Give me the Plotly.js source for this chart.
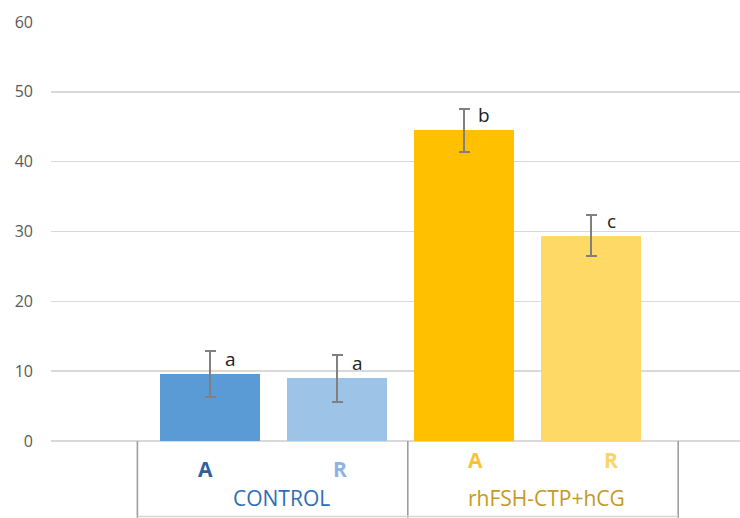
<!DOCTYPE html>
<html>
<head>
<meta charset="utf-8">
<script src="https://cdn.plot.ly/plotly-3.0.1.min.js"></script>
<style>
  html, body { margin: 0; padding: 0; background: #fff; }
  #chart { width: 740px; height: 518px; }
</style>
</head>
<body>
<div id="chart"></div>
<script>
// Sub-category labels, group names and measured values
const groups = ['CONTROL', 'rhFSH-CTP+hCG'];
const subLabels = ['A', 'R', 'A', 'R'];
const values = [9.6, 9.0, 44.5, 29.4];
const errors = [3.35, 3.35, 3.1, 2.95];
const letters = ['a', 'a', 'b', 'c'];
const yTicks = [0, 10, 20, 30, 40, 50, 60];

const barColors = ['#5B9BD5', '#9DC3E6', '#FFC000', '#FFD966'];
const subColors = ['#2F5FA0', '#8DB3E2', '#F7C236', '#FBD467'];
const groupColors = ['#2E6DB4', '#C49A22'];

const xs = values.map((_, i) => i);

const bars = {
  type: 'bar',
  x: xs,
  y: values,
  width: 0.78,
  marker: { color: barColors, line: { width: 0 } },
  error_y: {
    type: 'data',
    array: errors,
    visible: true,
    color: '#808080',
    thickness: 2,
    width: 5.5
  },
  hoverinfo: 'skip',
  showlegend: false
};

const annotations = [];

// significance letters beside each error bar
letters.forEach((t, i) => {
  annotations.push({
    xref: 'x', yref: 'y', x: xs[i], y: values[i],
    text: t, showarrow: false,
    xanchor: 'center', yanchor: 'bottom',
    xshift: 20, yshift: 0,
    font: { family: 'Open Sans', size: 19, color: '#222222' }
  });
});

// lower tier: A / R under each slot
subLabels.forEach((t, i) => {
  annotations.push({
    xref: 'x2', yref: 'paper', x: i, y: i < 2 ? -0.067 : -0.046,
    text: '<b>' + t + '</b>', showarrow: false,
    xanchor: 'center', yanchor: 'middle',
    font: { family: 'Open Sans', size: 21, color: subColors[i] }
  });
});

// upper tier: group names
groups.forEach((g, k) => {
  annotations.push({
    xref: 'x2', yref: 'paper', x: 2 * k + 0.5, y: -0.137,
    text: g, showarrow: false,
    xanchor: 'center', yanchor: 'middle',
    xshift: k === 0 ? 9 : 3,
    font: { family: 'Open Sans', size: 21, color: groupColors[k] }
  });
});

// group dividers and the bottom edge of the category table
const shapes = [];
[-0.5, 1.5, 3.5].forEach(x => {
  shapes.push({
    type: 'line', xref: 'x2', yref: 'paper',
    x0: x, x1: x, y0: 0, y1: -0.19,
    line: { color: '#9E9E9E', width: 1.6 }
  });
});
shapes.push({
  type: 'line', xref: 'x2', yref: 'paper',
  x0: -0.5, x1: 3.5, y0: -0.18, y1: -0.18,
  line: { color: '#D6D6D6', width: 1.5 }
});

const layout = {
  width: 740,
  height: 518,
  margin: { l: 51, r: 0, t: 22, b: 77 },
  paper_bgcolor: '#ffffff',
  plot_bgcolor: '#ffffff',
  font: { family: 'Open Sans', color: '#595959' },
  bargap: 0,
  xaxis: {
    range: [-1.252, 4.173],
    showgrid: false,
    zeroline: false,
    showticklabels: false,
    ticks: '',
    fixedrange: true
  },
  xaxis2: {
    overlaying: 'x',
    anchor: 'y',
    side: 'bottom',
    range: [-1.139, 3.957],
    showgrid: false,
    zeroline: false,
    showticklabels: false,
    ticks: '',
    fixedrange: true
  },
  yaxis: {
    range: [0, 60],
    tickvals: yTicks,
    ticktext: yTicks.map(String),
    showgrid: true,
    gridcolor: '#D9D9D9',
    gridwidth: 1.6,
    zeroline: true,
    zerolinecolor: '#D9D9D9',
    zerolinewidth: 1.6,
    showline: false,
    ticks: '',
    ticklabelstandoff: 17,
    tickfont: { family: 'Open Sans', size: 16, color: '#595959' },
    fixedrange: true
  },
  annotations: annotations,
  shapes: shapes
};

Plotly.newPlot('chart', [bars], layout, { displayModeBar: false, staticPlot: true });
</script>
</body>
</html>
